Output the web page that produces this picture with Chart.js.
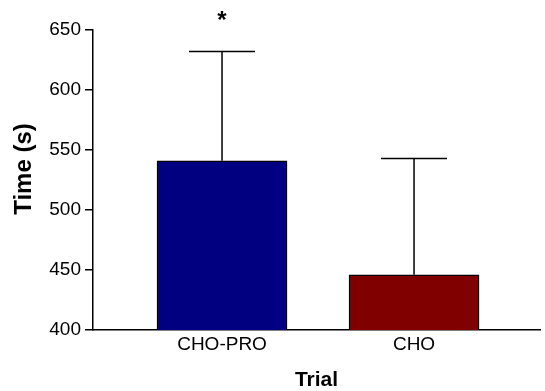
<!DOCTYPE html>
<html>
<head>
<meta charset="utf-8">
<script src="https://cdn.jsdelivr.net/npm/chart.js@4"></script>
<style>
  html, body { margin: 0; padding: 0; background: #fff; }
  #wrap { width: 545px; height: 391px; }
</style>
</head>
<body>
<div id="wrap"><canvas id="trialChart"></canvas></div>
<script>
// data
const trials = ["CHO-PRO", "CHO"];
const meanTime = [541, 446];
const sdTime = [91, 97];
const signif = ["*", ""];
const barColors = ["#000080", "#800000"];
const yTicks = [400, 450, 500, 550, 600, 650];
const yTitle = "Time (s)";

const FONT = "Arial, 'Liberation Sans', sans-serif";

// error bars, asterisk and y title, drawn through the chart scales
const errorBars = {
  id: "errorBars",
  afterDatasetsDraw(chart) {
    const ctx = chart.ctx;
    const xs = chart.scales.x;
    const ys = chart.scales.y;
    ctx.save();
    ctx.strokeStyle = "#000";
    ctx.lineWidth = 1.5;
    trials.forEach((t, i) => {
      const x = xs.getPixelForValue(i);
      const y0 = ys.getPixelForValue(meanTime[i]);
      const y1 = ys.getPixelForValue(meanTime[i] + sdTime[i]);
      ctx.beginPath();
      ctx.moveTo(x, y0);
      ctx.lineTo(x, y1);
      ctx.moveTo(x - 33, y1);
      ctx.lineTo(x + 33, y1);
      ctx.stroke();
      if (signif[i]) {
        ctx.fillStyle = "#000";
        ctx.font = "bold 24px " + FONT;
        ctx.textAlign = "center";
        ctx.textBaseline = "middle";
        ctx.fillText(signif[i], x, y1 - 30);
      }
    });
    // y axis title, sits a bit above the middle like the original
    ctx.translate(24, (ys.top + ys.bottom) / 2 - 11);
    ctx.rotate(-Math.PI / 2);
    ctx.fillStyle = "#000";
    ctx.font = "bold 24px " + FONT;
    ctx.textAlign = "center";
    ctx.textBaseline = "middle";
    ctx.fillText(yTitle, 0, 0);
    ctx.restore();
  }
};

new Chart(document.getElementById("trialChart"), {
  type: "bar",
  data: {
    datasets: [
      {
        data: trials.map((t, i) => ({ x: i, y: meanTime[i] })),
        backgroundColor: barColors,
        borderColor: "#000",
        borderWidth: 1.5,
        borderSkipped: "bottom",
        barThickness: 130,
      },
    ],
  },
  options: {
    responsive: true,
    maintainAspectRatio: false,
    animation: false,
    layout: { padding: { top: 30, right: 5, left: 0, bottom: 0 } },
    plugins: { legend: { display: false }, tooltip: { enabled: false } },
    scales: {
      x: {
        type: "linear",
        offset: false,
        min: -0.672,
        max: 1.656,
        afterBuildTicks: (s) => { s.ticks = trials.map((t, i) => ({ value: i })); },
        afterFit: (s) => { s.height = 61; },
        ticks: {
          callback: (v) => trials[v],
          color: "#000",
          font: { family: FONT, size: 19 },
          padding: 3,
          maxRotation: 0,
        },
        grid: { display: false, drawTicks: false, offset: false },
        border: { display: true, color: "#000", width: 1.5 },
        title: {
          display: true,
          text: "Trial",
          color: "#000",
          font: { family: FONT, size: 21, weight: "bold" },
          padding: { top: 4, bottom: -2 },
        },
      },
      y: {
        min: 400,
        max: 650,
        afterBuildTicks: (s) => { s.ticks = yTicks.map((v) => ({ value: v })); },
        afterFit: (s) => { s.width = 93; },
        ticks: {
          color: "#000",
          font: { family: FONT, size: 19 },
          padding: 4,
        },
        grid: { drawOnChartArea: false, drawTicks: true, tickLength: 8, color: "#000", lineWidth: 1.5 },
        border: { display: true, color: "#000", width: 1.5 },
      },
    },
  },
  plugins: [errorBars],
});
</script>
</body>
</html>
